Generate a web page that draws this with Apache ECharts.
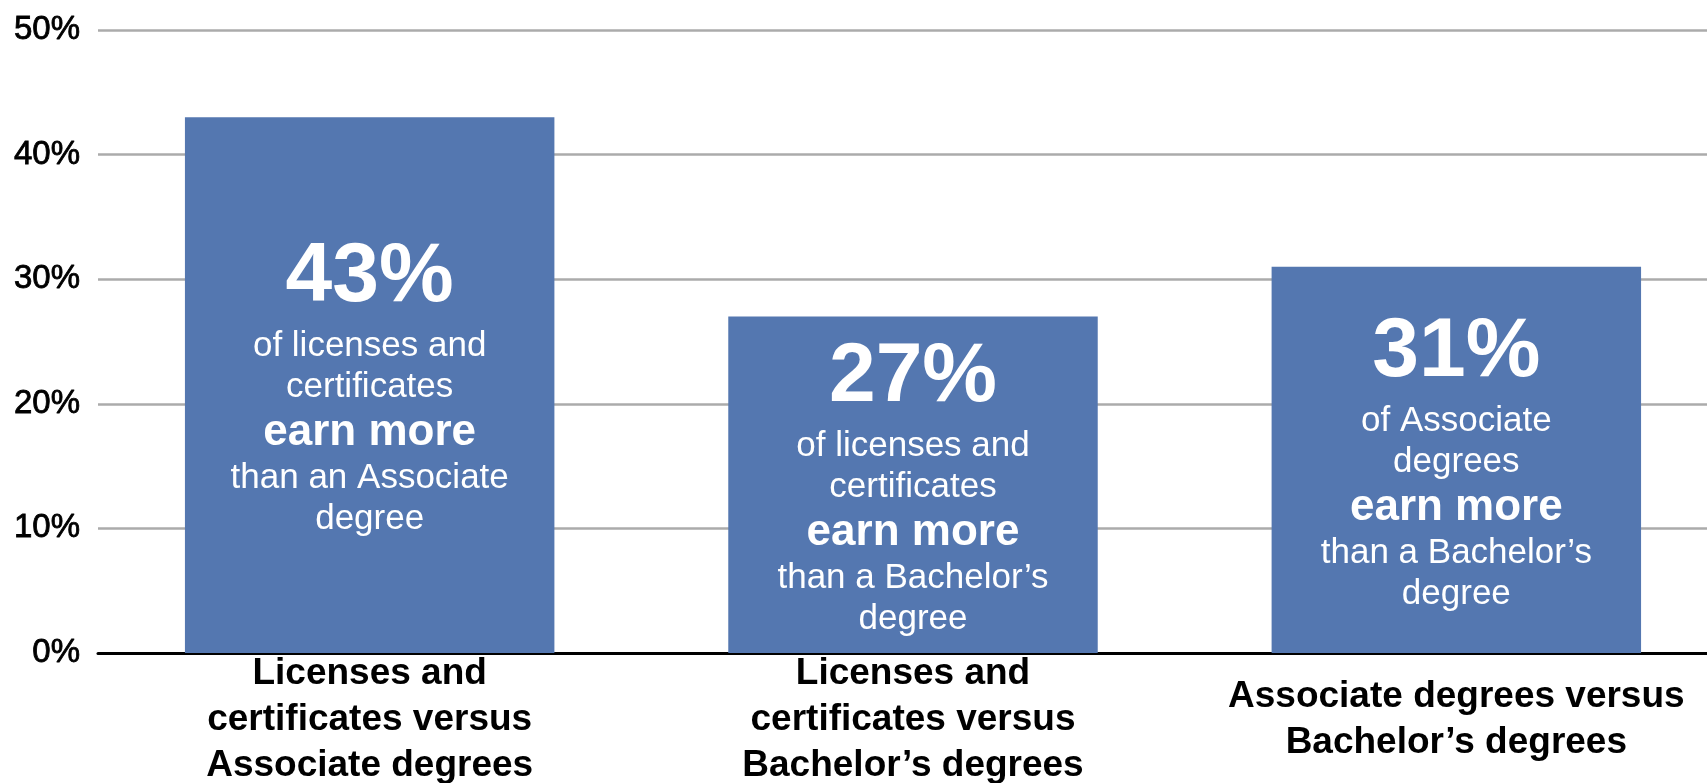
<!DOCTYPE html>
<html>
<head>
<meta charset="utf-8">
<script src="https://cdn.jsdelivr.net/npm/echarts@6/dist/echarts.min.js"></script>
<style>
html,body{margin:0;padding:0;background:#fff;}
#chart{width:1707px;height:783px;}
</style>
</head>
<body>
<div id="chart"></div>
<script>
const categories = [
  "Licenses and\ncertificates versus\nAssociate degrees",
  "Licenses and\ncertificates versus\nBachelor\u2019s degrees",
  "Associate degrees versus\nBachelor\u2019s degrees"
];
const values = [43, 27, 31];
const introLines = [
  ["of licenses and", "certificates"],
  ["of licenses and", "certificates"],
  ["of Associate", "degrees"]
];
const emphasisText = ["earn more", "earn more", "earn more"];
const outroLines = [
  ["than an Associate", "degree"],
  ["than a Bachelor\u2019s", "degree"],
  ["than a Bachelor\u2019s", "degree"]
];
const yTicks = [0, 10, 20, 30, 40, 50];

const FONT = "'Liberation Sans', Arial, sans-serif";

const chart = echarts.init(document.getElementById('chart'), null, {renderer: 'canvas'});
chart.setOption({
  animation: false,
  backgroundColor: '#ffffff',
  grid: {left: 98, top: 30, bottom: 130, width: 1630, containLabel: false, outerBoundsMode: 'none'},
  xAxis: {
    type: 'category',
    data: categories,
    axisLine: {show: true, lineStyle: {color: '#000', width: 3}},
    axisTick: {show: false},
    axisLabel: {
      interval: 0,
      color: '#000',
      fontFamily: FONT,
      fontWeight: 'bold',
      fontSize: 37,
      lineHeight: 46,
      verticalAlign: 'middle',
      margin: 67,
      align: 'center'
    }
  },
  yAxis: {
    type: 'value',
    min: yTicks[0],
    max: yTicks[yTicks.length - 1],
    interval: 10,
    axisLine: {show: false},
    axisTick: {show: false},
    splitLine: {show: true, lineStyle: {color: '#ababab', width: 2.5}},
    axisLabel: {
      formatter: '{value}%',
      color: '#000',
      fontFamily: FONT,
      fontSize: 33,
      textBorderColor: '#000',
      textBorderWidth: 0.8,
      margin: 18
    }
  },
  series: [{
    type: 'bar',
    data: values,
    barWidth: '68%',
    itemStyle: {color: '#5477b0'},
    label: {
      show: true,
      position: 'inside',
      color: '#fff',
      fontFamily: FONT,
      align: 'center',
      formatter: function (p) {
        const i = p.dataIndex;
        const parts = ['{big|' + p.value + '%}'];
        introLines[i].forEach(l => parts.push('{n|' + l + '}'));
        parts.push('{b|' + emphasisText[i] + '}');
        outroLines[i].forEach(l => parts.push('{n|' + l + '}'));
        return parts.join('\n');
      },
      rich: {
        big: {fontFamily: FONT, fontSize: 84, fontWeight: 'bold', color: '#fff', lineHeight: 96},
        n: {fontFamily: FONT, fontSize: 35, color: '#fff', lineHeight: 41},
        b: {fontFamily: FONT, fontSize: 44, fontWeight: 'bold', color: '#fff', lineHeight: 50}
      }
    }
  }]
});
</script>
</body>
</html>
